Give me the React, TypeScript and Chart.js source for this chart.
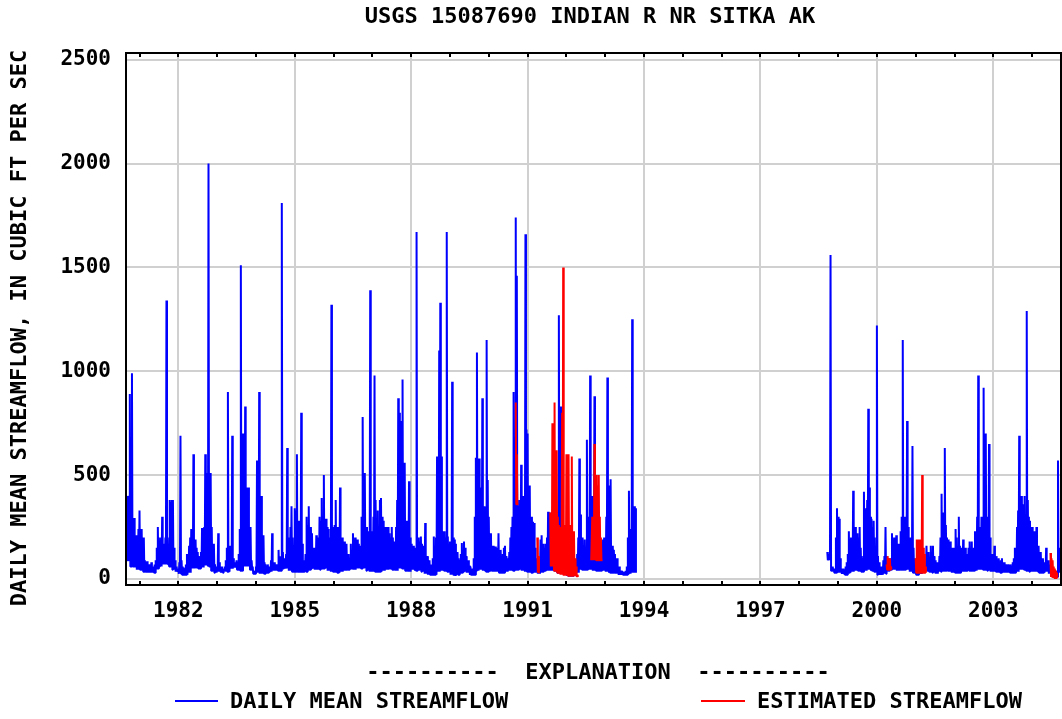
import { useEffect, useRef } from "react";
import { Chart, registerables } from "chart.js";

Chart.register(...registerables);

const CHART_TITLE = "USGS 15087690 INDIAN R NR SITKA AK";
const Y_AXIS_TITLE = "DAILY MEAN STREAMFLOW, IN CUBIC FT PER SEC";
const EXPLANATION = "----------  EXPLANATION  ----------";
const SERIES_LABELS = ["DAILY MEAN STREAMFLOW", "ESTIMATED STREAMFLOW"];
const SERIES_COLORS = ["#0000ff", "#ff0000"];
const X_TICK_YEARS = [1982, 1985, 1988, 1991, 1994, 1997, 2000, 2003];
const Y_TICKS = [0, 500, 1000, 1500, 2000, 2500];
const X_RANGE = [1980.652, 2004.744];
const Y_RANGE = [-29, 2532];
const SAMPLES_PER_YEAR = 36; // one peak value read about every 10 days
const SAMPLES_PER_BASE = 3; // one low-flow value per ~month

// Peak daily mean streamflow (cfs) in each ~10-day window
const flow1980 = [395, 400, 400, 890, 300, 990, 250, 294, 200, 210, 200, 240];
const flow1981 = [330, 200, 240, 200, 200, 90, 70, 85, 60, 70, 55, 80, 60, 50, 70, 90, 150, 250, 200, 170, 200, 300, 170, 160, 200, 1340, 200, 150, 380, 370, 380, 380, 150, 90, 60, 50];
const flow1982 = [50, 80, 690, 90, 60, 55, 50, 70, 120, 110, 160, 200, 240, 150, 600, 190, 190, 150, 130, 110, 110, 130, 245, 200, 250, 600, 510, 510, 2000, 500, 510, 250, 120, 170, 70, 50];
const flow1983 = [60, 220, 80, 50, 60, 45, 50, 60, 90, 150, 900, 160, 160, 120, 690, 100, 80, 70, 90, 80, 120, 240, 1510, 700, 700, 700, 830, 440, 440, 440, 250, 250, 90, 60, 40, 35];
const flow1984 = [60, 570, 400, 900, 400, 400, 150, 210, 80, 70, 60, 70, 60, 60, 90, 220, 70, 80, 60, 70, 70, 140, 100, 110, 1810, 130, 100, 100, 120, 630, 150, 200, 250, 350, 200, 160];
const flow1985 = [340, 330, 600, 280, 280, 200, 800, 170, 90, 70, 120, 300, 260, 350, 250, 250, 220, 150, 120, 150, 210, 150, 200, 300, 280, 390, 300, 500, 250, 290, 250, 240, 200, 150, 1320, 200];
const flow1986 = [250, 260, 380, 230, 250, 250, 440, 200, 200, 160, 180, 150, 170, 120, 120, 100, 170, 130, 220, 150, 200, 130, 190, 170, 160, 150, 300, 780, 510, 510, 250, 250, 230, 200, 1390, 230];
const flow1987 = [200, 300, 980, 380, 240, 330, 250, 380, 390, 300, 280, 250, 250, 250, 230, 250, 220, 200, 250, 200, 180, 150, 250, 380, 870, 800, 760, 760, 960, 500, 560, 220, 280, 200, 470, 200];
const flow1988 = [170, 160, 160, 120, 150, 1670, 200, 200, 180, 204, 170, 160, 150, 270, 110, 110, 90, 90, 60, 70, 100, 204, 80, 200, 590, 590, 1100, 1330, 590, 230, 200, 230, 200, 1670, 204, 170];
const flow1989 = [180, 150, 950, 200, 190, 170, 130, 130, 100, 90, 120, 173, 120, 180, 150, 110, 90, 90, 64, 60, 40, 50, 100, 300, 584, 1090, 440, 580, 350, 440, 870, 350, 350, 348, 1150, 477];
const flow1990 = [300, 220, 220, 160, 160, 150, 156, 120, 150, 220, 130, 140, 110, 120, 150, 160, 110, 100, 90, 130, 200, 250, 300, 900, 600, 1740, 1460, 380, 350, 380, 550, 330, 400, 380, 1660, 720];
const flow1991 = [700, 450, 450, 300, 300, 276, 270, 150, 100, 80, 60, 60, 190, 210, 170, 170, 150, 170, 200, 324, 320, 300, 250, 320, 240, 200, 150, 120, 300, 1270, 150, 830, 100, 60, 70, 50];
const flow1992 = [50, 40, 60, 30, 50, 40, 60, 30, 50, 40, 120, 200, 580, 310, 200, 200, 150, 190, 150, 670, 250, 300, 980, 400, 400, 396, 880, 300, 250, 200, 150, 150, 120, 100, 190, 200];
const flow1993 = [200, 300, 970, 450, 300, 480, 160, 160, 140, 120, 100, 100, 60, 60, 40, 40, 35, 35, 30, 40, 60, 200, 425, 240, 200, 1250, 300, 350, 340];
const flow1998 = [130, 100, 120, 1560, 60, 60, 50, 50, 200, 340];
const flow1999 = [300, 290, 100, 50, 40, 50, 45, 60, 80, 120, 230, 180, 200, 150, 425, 200, 250, 180, 220, 200, 250, 150, 110, 100, 420, 200, 340, 380, 820, 440, 300, 290, 250, 280, 200, 150];
const flow2000 = [1220, 110, 80, 60, 60, 60, 90, 110, 250, 110, 100, 90, 100, 100, 220, 150, 200, 150, 210, 170, 170, 150, 230, 300, 1150, 250, 300, 250, 760, 250, 200, 150, 200, 640, 150, 100];
const flow2001 = [40, 60, 40, 50, 40, 60, 40, 50, 40, 50, 160, 130, 130, 100, 160, 120, 160, 110, 90, 70, 80, 60, 110, 200, 410, 320, 320, 630, 260, 200, 190, 150, 180, 120, 150, 100];
const flow2002 = [150, 240, 200, 150, 300, 160, 150, 120, 190, 120, 150, 100, 120, 150, 180, 150, 180, 130, 150, 230, 200, 300, 980, 250, 250, 300, 250, 920, 400, 700, 300, 250, 650, 200, 120, 120];
const flow2003 = [100, 160, 90, 110, 90, 100, 80, 90, 100, 70, 80, 60, 70, 60, 70, 60, 70, 60, 80, 100, 150, 150, 250, 330, 690, 350, 400, 300, 360, 400, 300, 1290, 380, 300, 280, 250];
const flow2004 = [250, 200, 230, 200, 250, 150, 160, 120, 130, 100, 100, 80, 80, 150, 90, 90, 70, 60, 50, 40, 30, 30, 25, 40, 570, 150, 120];

const base1980 = [90, 60, 55, 45];
const base1981 = [45, 35, 30, 30, 30, 50, 60, 70, 70, 60, 45, 35];
const base1982 = [25, 20, 20, 30, 50, 55, 50, 55, 65, 60, 40, 30];
const base1983 = [35, 30, 40, 35, 50, 55, 45, 40, 60, 60, 45, 25];
const base1984 = [30, 25, 25, 30, 35, 40, 40, 40, 50, 50, 40, 35];
const base1985 = [35, 30, 30, 35, 45, 50, 45, 45, 50, 50, 40, 35];
const base1986 = [35, 30, 35, 40, 45, 50, 45, 50, 50, 55, 40, 35];
const base1987 = [35, 35, 35, 40, 45, 50, 45, 40, 50, 50, 40, 35];
const base1988 = [45, 40, 45, 35, 25, 20, 20, 20, 35, 40, 40, 35];
const base1989 = [20, 15, 20, 30, 35, 30, 20, 20, 40, 45, 40, 35];
const base1990 = [40, 35, 35, 30, 30, 35, 40, 40, 45, 45, 40, 35];
const base1991 = [35, 30, 30, 25, 35, 40, 40, 40, 40, 30, 25, 20];
const base1992 = [15, 15, 15, 30, 45, 45, 45, 45, 40, 40, 40, 40];
const base1993 = [35, 30, 30, 25, 20, 20, 20, 25, 30, 30];
const base1998 = [90, 40, 30, 40];
const base1999 = [30, 25, 20, 30, 35, 40, 40, 35, 40, 45, 40, 35];
const base2000 = [20, 20, 25, 40, 45, 45, 40, 45, 45, 45, 35, 30];
const base2001 = [20, 25, 30, 40, 35, 30, 25, 35, 40, 40, 35, 30];
const base2002 = [30, 30, 35, 35, 40, 40, 40, 45, 45, 45, 40, 35];
const base2003 = [35, 35, 30, 30, 30, 30, 30, 35, 45, 45, 40, 35];
const base2004 = [35, 35, 30, 30, 35, 25, 15, 10, 30];

// Estimated streamflow periods (cfs): peaks and lows
const est1990 = [850, 600, 360];
const estBase1990 = [360];
const est1991a = [200, 110, 30];
const estBase1991a = [30];
const est1991b = [320, 250, 750, 300, 850, 400, 620, 300, 260, 250, 250, 800, 1500, 260, 260, 600, 260, 600, 260, 260, 590, 200, 230, 100, 60, 20];
const estBase1991b = [60, 40, 30, 20, 15, 15, 15, 15, 10];
const est1992 = [90, 300, 200, 650, 420, 500, 450, 500, 300, 200, 90];
const estBase1992 = [90, 90, 90, 90];
const est2000 = [70, 110, 100, 100, 60];
const estBase2000 = [45, 45];
const est2001 = [100, 190, 190, 190, 190, 190, 500, 150, 120, 60];
const estBase2001 = [30, 25, 25, 30];
const est2004 = [125, 100, 90, 60, 50, 40, 30];
const estBase2004 = [10, 5, 10];

type Run = [number, number, number[], number[]]; // year, first sample index, peaks, lows

const dailyRuns: Run[] = [
  [1980, 24, flow1980, base1980], [1981, 0, flow1981, base1981], [1982, 0, flow1982, base1982],
  [1983, 0, flow1983, base1983], [1984, 0, flow1984, base1984], [1985, 0, flow1985, base1985],
  [1986, 0, flow1986, base1986], [1987, 0, flow1987, base1987], [1988, 0, flow1988, base1988],
  [1989, 0, flow1989, base1989], [1990, 0, flow1990, base1990], [1991, 0, flow1991, base1991],
  [1992, 0, flow1992, base1992], [1993, 0, flow1993, base1993],
  [1998, 26, flow1998, base1998], [1999, 0, flow1999, base1999], [2000, 0, flow2000, base2000],
  [2001, 0, flow2001, base2001], [2002, 0, flow2002, base2002], [2003, 0, flow2003, base2003],
  [2004, 0, flow2004, base2004],
];

const estimatedRuns: Run[] = [
  [1990, 25, est1990, estBase1990], [1991, 9, est1991a, estBase1991a],
  [1991, 21, est1991b, estBase1991b], [1992, 23, est1992, estBase1992],
  [2000, 9, est2000, estBase2000], [2001, 0, est2001, estBase2001],
  [2004, 17, est2004, estBase2004],
];

function toPoints(runs: Run[]) {
  const pts: { x: number; y: number | null }[] = [];
  let lastEnd: number | null = null;
  for (const [year, first, peaks, lows] of runs) {
    const start = year + first / SAMPLES_PER_YEAR;
    if (lastEnd !== null && start - lastEnd > 1.5 / SAMPLES_PER_YEAR) {
      pts.push({ x: (lastEnd + start) / 2, y: null });
    }
    peaks.forEach((v, j) => {
      const t = year + (first + j) / SAMPLES_PER_YEAR;
      pts.push({ x: t, y: v });
      pts.push({ x: t + 0.5 / SAMPLES_PER_YEAR, y: lows[Math.floor(j / SAMPLES_PER_BASE)] });
    });
    lastEnd = year + (first + peaks.length - 0.5) / SAMPLES_PER_YEAR;
  }
  return pts;
}

const FONT_FAMILY = '"DejaVu Sans Mono", monospace';

const decorPlugin = {
  id: "usgsDecor",
  afterDraw(chart: any) {
    const { ctx, chartArea: a } = chart;
    const xs = chart.scales.x;
    ctx.save();
    ctx.fillStyle = "#000";
    for (let yr = Math.ceil(xs.min); yr <= Math.floor(xs.max); yr++) {
      const px = Math.round(xs.getPixelForValue(yr));
      ctx.fillRect(px - 1, a.top, 2, 4);
      ctx.fillRect(px - 1, a.bottom - 4, 2, 4);
    }
    ctx.lineWidth = 2;
    ctx.strokeStyle = "#000";
    ctx.strokeRect(a.left, a.top, a.right - a.left, a.bottom - a.top);

    ctx.font = `bold 22px ${FONT_FAMILY}`;
    ctx.fillStyle = "#000";
    ctx.textBaseline = "middle";
    ctx.textAlign = "center";
    ctx.fillText(CHART_TITLE, 590, 17);
    ctx.fillText(EXPLANATION, 598, 673);

    ctx.save();
    ctx.translate(20, 328);
    ctx.rotate(-Math.PI / 2);
    ctx.fillText(Y_AXIS_TITLE, 0, 0);
    ctx.restore();

    ctx.textAlign = "left";
    const legendItems = [
      { x0: 175, x1: 218, tx: 230 },
      { x0: 701, x1: 745, tx: 757 },
    ];
    legendItems.forEach((it, i) => {
      ctx.strokeStyle = SERIES_COLORS[i];
      ctx.lineWidth = 2;
      ctx.beginPath();
      ctx.moveTo(it.x0, 701);
      ctx.lineTo(it.x1, 701);
      ctx.stroke();
      ctx.fillStyle = "#000";
      ctx.fillText(SERIES_LABELS[i], it.tx, 702);
    });
    ctx.restore();
  },
};

export default function App() {
  const ref = useRef<HTMLCanvasElement | null>(null);

  useEffect(() => {
    if (!ref.current) return;
    const tickFont = { family: FONT_FAMILY, size: 21, weight: "bold" as const };
    const chart = new Chart(ref.current, {
      type: "line",
      data: {
        datasets: [
          {
            label: SERIES_LABELS[1],
            data: toPoints(estimatedRuns) as any,
            borderColor: SERIES_COLORS[1],
            borderWidth: 2,
            pointRadius: 0,
            spanGaps: false,
            order: 0,
          },
          {
            label: SERIES_LABELS[0],
            data: toPoints(dailyRuns) as any,
            borderColor: SERIES_COLORS[0],
            borderWidth: 2,
            pointRadius: 0,
            spanGaps: false,
            order: 1,
          },
        ],
      },
      options: {
        responsive: false,
        animation: false,
        devicePixelRatio: 1,
        events: [],
        layout: { padding: { left: 0, top: 53, right: 1, bottom: 94 } },
        elements: { line: { tension: 0, borderJoinStyle: "bevel" }, point: { radius: 0 } },
        plugins: {
          legend: { display: false },
          title: { display: false },
          tooltip: { enabled: false },
        },
        scales: {
          x: {
            type: "linear",
            min: X_RANGE[0],
            max: X_RANGE[1],
            afterBuildTicks: (s: any) => {
              s.ticks = X_TICK_YEARS.map((v) => ({ value: v }));
            },
            afterFit: (s: any) => {
              s.height = 40;
            },
            grid: { color: "#d0d0d0", lineWidth: 2, drawTicks: false },
            border: { display: false },
            ticks: {
              color: "#000",
              font: tickFont,
              padding: 14,
              maxRotation: 0,
              autoSkip: false,
              callback: (v: any) => String(v),
            },
          },
          y: {
            type: "linear",
            min: Y_RANGE[0],
            max: Y_RANGE[1],
            afterBuildTicks: (s: any) => {
              s.ticks = Y_TICKS.map((v) => ({ value: v }));
            },
            afterFit: (s: any) => {
              s.width = 126;
            },
            grid: { color: "#d0d0d0", lineWidth: 2, drawTicks: false },
            border: { display: false },
            ticks: {
              color: "#000",
              font: tickFont,
              padding: 15,
              autoSkip: false,
              callback: (v: any) => String(v),
            },
          },
        },
      },
      plugins: [decorPlugin],
    });
    return () => chart.destroy();
  }, []);

  return (
    <div style={{ position: "fixed", left: 0, top: 0, width: 1062, height: 719, background: "#fff" }}>
      <canvas ref={ref} width={1062} height={719} style={{ display: "block", width: 1062, height: 719 }} />
    </div>
  );
}
